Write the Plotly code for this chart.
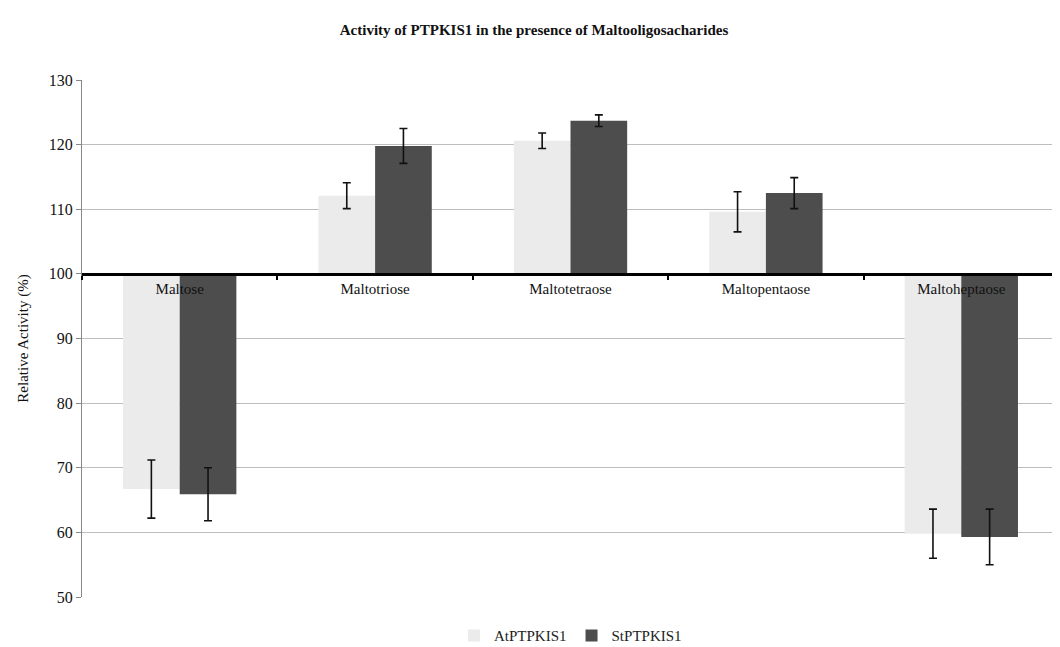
import plotly.graph_objects as go

categories = ["Maltose", "Maltotriose", "Maltotetraose", "Maltopentaose", "Maltoheptaose"]
at_values = [66.7, 112.1, 120.6, 109.6, 59.8]
at_err = [4.5, 2.0, 1.2, 3.1, 3.8]
st_values = [65.9, 119.8, 123.7, 112.5, 59.3]
st_err = [4.1, 2.7, 0.9, 2.4, 4.3]
baseline = 100
y_ticks = [50, 60, 70, 80, 90, 100, 110, 120, 130]

serif = "Liberation Serif"

fig = go.Figure()
fig.add_trace(go.Bar(
    name="AtPTPKIS1", x=categories, y=[v - baseline for v in at_values], base=baseline,
    marker=dict(color="#ebebeb", line=dict(width=0)),
    error_y=dict(type="data", array=at_err, color="#111111", thickness=1.6, width=4),
))
fig.add_trace(go.Bar(
    name="StPTPKIS1", x=categories, y=[v - baseline for v in st_values], base=baseline,
    marker=dict(color="#4d4d4d", line=dict(width=0)),
    error_y=dict(type="data", array=st_err, color="#111111", thickness=1.6, width=4),
))

fig.update_layout(
    width=1052, height=639,
    margin=dict(l=74, r=1, t=72, b=50, autoexpand=False),
    paper_bgcolor="white", plot_bgcolor="white",
    barmode="group", bargap=0.42, bargroupgap=0,
    font=dict(family=serif, size=15, color="#111111"),
    title=dict(text="Activity of PTPKIS1 in the presence of Maltooligosacharides",
               x=0.5, xanchor="center", y=0.966, yanchor="middle",
               font=dict(family=serif, size=15, color="#111111", weight="bold")),
    showlegend=True,
    legend=dict(orientation="h", x=0.5, xanchor="center", y=-0.075, yanchor="middle",
                font=dict(family=serif, size=15, color="#222222"),
                itemwidth=30, traceorder="normal"),
    xaxis=dict(
        type="category", anchor="free", position=(baseline - 50) / 80, automargin=False,
        showline=True, linecolor="black", linewidth=3,
        ticks="outside", tickson="boundaries", ticklen=4, tickwidth=2, tickcolor="black",
        showgrid=False, tickfont=dict(family=serif, size=15, color="#111111"),
    ),
    yaxis=dict(
        range=[50, 130], tickvals=y_ticks, showline=True, linecolor="#888888", linewidth=1,
        automargin=True,
        showgrid=True, gridcolor="#bdbdbd", gridwidth=1, zeroline=False,
        ticks="outside", ticklen=5, tickcolor="#888888",
        tickfont=dict(family=serif, size=16, color="#111111"),
        title=dict(text="Relative Activity (%)", font=dict(family=serif, size=15, color="#111111"),
                   standoff=16),
    ),
)

fig.write_html("out.html")
